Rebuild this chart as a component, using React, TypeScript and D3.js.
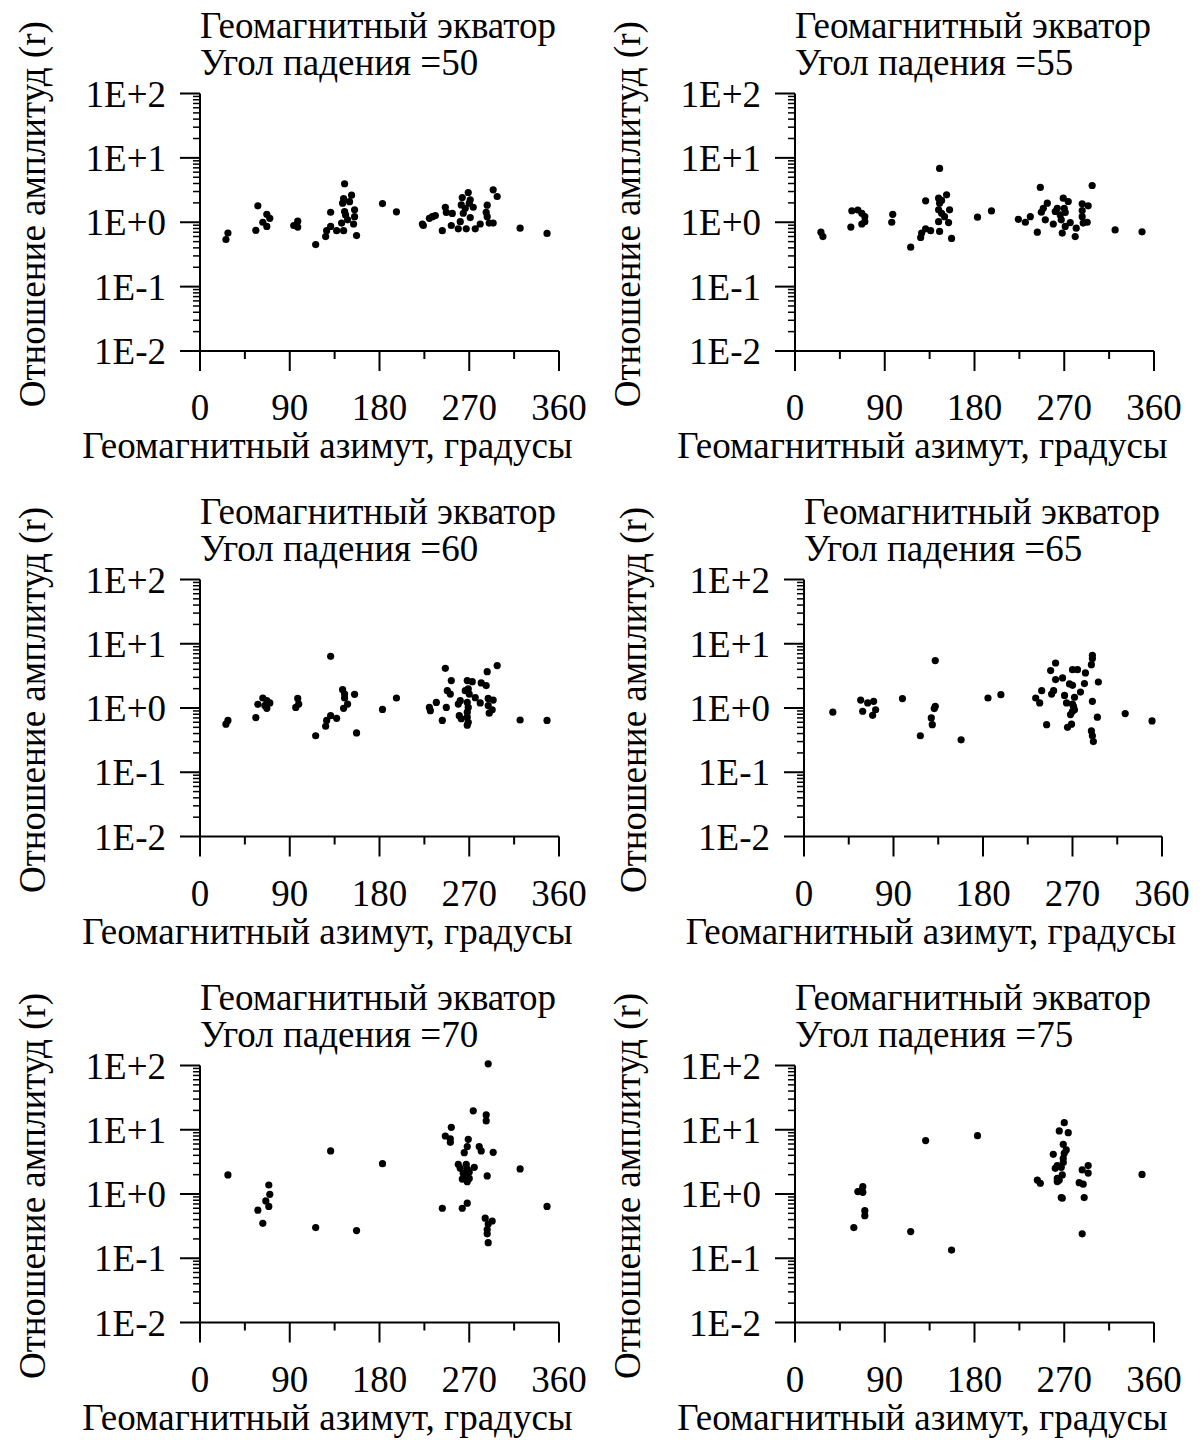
import React, { useEffect, useRef } from "react";
import * as d3 from "d3";

// azimuth (deg) and amplitude ratio r for each dip angle
const az50 = [26, 28, 56, 58, 67, 70, 63, 67, 94, 98, 98, 116, 126, 127, 131, 131, 137, 144, 142, 145, 144, 143, 150, 152, 145, 146, 148, 154, 155, 155, 157, 183, 197, 223, 224, 230, 233, 236, 243, 246, 247, 253, 252, 259, 261, 262, 263, 264, 267, 269, 270, 271, 266, 271, 274, 276, 281, 288, 287, 288, 290, 294, 294, 298, 321, 348];
const r50 = [0.54, 0.68, 0.75, 1.8, 1.33, 1.15, 1.0, 0.86, 0.89, 1.04, 0.84, 0.45, 0.6, 0.74, 0.86, 1.43, 0.74, 0.74, 0.97, 3.96, 2.34, 1.98, 2.09, 2.63, 1.47, 1.3, 1.09, 0.94, 1.56, 1.22, 0.62, 1.95, 1.45, 0.94, 0.89, 1.15, 1.22, 1.27, 0.74, 1.71, 1.42, 1.37, 0.89, 0.79, 1.02, 1.86, 2.42, 1.38, 0.79, 2.9, 1.98, 1.18, 1.65, 2.23, 1.71, 0.79, 0.94, 1.84, 1.43, 1.22, 0.97, 0.97, 3.19, 2.51, 0.81, 0.67];

const az55 = [26, 28, 56, 57, 63, 67, 70, 67, 70, 98, 97, 116, 126, 127, 131, 136, 131, 145, 144, 145, 147, 152, 144, 147, 144, 145, 150, 155, 154, 157, 183, 197, 224, 231, 236, 243, 246, 247, 249, 253, 251, 259, 261, 263, 266, 267, 269, 274, 270, 271, 268, 271, 276, 281, 282, 288, 288, 288, 294, 289, 293, 298, 321, 348];
const r55 = [0.7, 0.6, 0.84, 1.51, 1.55, 1.38, 1.22, 0.94, 1.02, 1.33, 1.0, 0.41, 0.58, 0.68, 0.79, 0.74, 2.15, 6.86, 2.37, 1.98, 2.18, 2.67, 1.56, 1.38, 1.02, 0.72, 1.22, 1.56, 0.99, 0.56, 1.2, 1.5, 1.11, 1.0, 1.22, 0.7, 3.47, 1.43, 1.65, 1.98, 1.09, 0.94, 1.47, 1.65, 1.3, 1.09, 2.37, 2.1, 1.65, 1.42, 0.68, 0.86, 0.99, 0.6, 0.81, 1.93, 1.52, 1.22, 1.8, 0.97, 1.0, 3.72, 0.76, 0.71];

const az60 = [26, 28, 56, 58, 63, 67, 70, 67, 65, 96, 98, 99, 116, 126, 127, 131, 137, 131, 143, 145, 145, 155, 148, 144, 157, 183, 197, 230, 231, 237, 243, 246, 247, 248, 251, 252, 259, 261, 260, 262, 266, 269, 270, 268, 273, 268, 269, 268, 268, 269, 268, 276, 282, 287, 288, 298, 281, 289, 294, 289, 293, 290, 321, 348];
const r60 = [0.56, 0.64, 0.71, 1.14, 1.43, 1.3, 1.2, 0.99, 1.09, 1.02, 1.41, 1.15, 0.37, 0.52, 0.64, 0.76, 0.69, 6.38, 1.93, 1.65, 1.43, 1.63, 1.15, 0.99, 0.41, 0.95, 1.43, 1.02, 0.91, 1.22, 0.64, 4.15, 1.02, 1.86, 1.65, 2.67, 1.15, 1.3, 0.76, 0.68, 1.86, 1.98, 1.65, 2.67, 2.57, 1.22, 1.02, 0.86, 0.72, 0.6, 0.54, 1.45, 2.46, 2.23, 3.68, 4.57, 1.2, 1.41, 1.33, 1.09, 0.94, 0.83, 0.65, 0.64];

const az65 = [29, 57, 59, 64, 70, 72, 69, 99, 117, 128, 129, 132, 131, 132, 158, 185, 198, 233, 237, 239, 244, 248, 249, 251, 253, 253, 260, 262, 264, 267, 270, 275, 270, 272, 270, 270, 268, 271, 272, 265, 269, 278, 282, 283, 289, 290, 290, 290, 289, 290, 291, 296, 295, 323, 350];
const r65 = [0.86, 1.33, 0.89, 1.2, 1.27, 0.94, 0.77, 1.4, 0.37, 0.7, 0.55, 5.47, 0.98, 1.06, 0.32, 1.43, 1.61, 1.43, 1.2, 1.86, 0.55, 3.82, 1.65, 1.86, 5.02, 2.77, 2.94, 1.57, 1.2, 2.37, 3.95, 3.95, 2.25, 1.47, 1.15, 0.89, 0.79, 1.06, 0.94, 0.5, 0.56, 1.77, 2.4, 3.52, 4.73, 5.87, 6.61, 1.27, 0.44, 0.37, 0.3, 2.54, 0.72, 0.82, 0.63];

const az70 = [28, 58, 63, 69, 70, 66, 69, 116, 131, 157, 183, 243, 246, 252, 251, 251, 263, 268, 274, 269, 268, 265, 259, 261, 263, 264, 267, 268, 270, 268, 268, 270, 275, 280, 282, 287, 287, 289, 288, 294, 286, 288, 288, 293, 289, 289, 321, 348];
const r70 = [1.98, 0.56, 0.35, 1.38, 0.99, 0.78, 0.64, 0.3, 4.68, 0.27, 2.97, 0.6, 8.0, 10.9, 6.38, 7.2, 0.6, 0.72, 19.7, 7.1, 5.47, 4.4, 2.9, 2.51, 1.71, 2.1, 2.9, 2.45, 2.2, 1.86, 1.55, 1.75, 2.6, 5.47, 4.68, 17.0, 13.7, 106, 1.91, 4.46, 0.42, 0.28, 0.24, 0.38, 0.34, 0.175, 2.46, 0.64];

const az75 = [59, 63, 68, 68, 67, 70, 70, 116, 131, 157, 183, 243, 246, 259, 261, 263, 263, 265, 265, 270, 274, 269, 272, 270, 269, 269, 267, 268, 263, 267, 268, 288, 294, 294, 285, 289, 290, 288, 348];
const r75 = [0.3, 1.09, 1.06, 1.3, 1.15, 0.55, 0.46, 0.26, 6.78, 0.134, 8.1, 1.65, 1.47, 4.15, 2.51, 2.77, 1.75, 1.65, 9.6, 12.9, 9.0, 5.94, 4.85, 4.3, 3.6, 3.1, 2.6, 1.98, 1.56, 0.88, 0.86, 2.37, 2.77, 2.12, 1.5, 1.42, 0.88, 0.24, 2.02];

const dipAngles = [50, 55, 60, 65, 70, 75];
const azSeries = [az50, az55, az60, az65, az70, az75];
const rSeries = [r50, r55, r60, r65, r70, r75];

const xTicks = [0, 90, 180, 270, 360];
const xMinorTicks = [45, 135, 225, 315];
const yTicks = [100, 10, 1, 0.1, 0.01];
const yTickLabels = ["1E+2", "1E+1", "1E+0", "1E-1", "1E-2"];

const titleLine1 = "Геомагнитный экватор";
const titleLine2 = "Угол падения =";
const xTitle = "Геомагнитный азимут, градусы";
const yTitle = "Отношение амплитуд (r)";

// panel frames: left / right of x axis, top / bottom of y axis, y-title column
const frames = [
  { l: 200, r: 559, t: 93.5, b: 351, yl: 32 },
  { l: 795, r: 1154, t: 93.5, b: 351, yl: 627 },
  { l: 200, r: 559, t: 579.5, b: 836.5, yl: 32 },
  { l: 804, r: 1162, t: 579.5, b: 836.5, yl: 633 },
  { l: 200, r: 559, t: 1065.5, b: 1322.5, yl: 32 },
  { l: 795, r: 1154, t: 1065.5, b: 1322.5, yl: 627 },
];

const FONT = "'Liberation Serif', 'Times New Roman', serif";
const FS = 37;

const drawPanel = (svg, f, az, r, dip) => {
  const x = d3.scaleLinear().domain([0, 360]).range([f.l, f.r]);
  const y = d3.scaleLog().domain([0.01, 100]).range([f.b, f.t]);
  const g = svg.append("g");

  // y minor ticks (2..9 in each decade)
  const minor = [];
  for (let e = -2; e < 2; e++) for (let k = 2; k <= 9; k++) minor.push(k * Math.pow(10, e));
  g.selectAll(".ymin").data(minor).enter().append("line")
    .attr("x1", f.l - 7).attr("x2", f.l)
    .attr("y1", d => y(d)).attr("y2", d => y(d))
    .attr("stroke", "#000").attr("stroke-width", 1.5);
  g.selectAll(".ymaj").data(yTicks).enter().append("line")
    .attr("x1", f.l - 20).attr("x2", f.l)
    .attr("y1", d => y(d)).attr("y2", d => y(d))
    .attr("stroke", "#000").attr("stroke-width", 2);
  g.selectAll(".ylab").data(yTicks).enter().append("text")
    .attr("x", f.l - 34).attr("y", d => y(d) + 13)
    .attr("text-anchor", "end")
    .text((d, i) => yTickLabels[i]);

  // x ticks
  g.selectAll(".xmaj").data(xTicks).enter().append("line")
    .attr("x1", d => x(d)).attr("x2", d => x(d))
    .attr("y1", f.b).attr("y2", f.b + 20)
    .attr("stroke", "#000").attr("stroke-width", 2);
  g.selectAll(".xmin").data(xMinorTicks).enter().append("line")
    .attr("x1", d => x(d)).attr("x2", d => x(d))
    .attr("y1", f.b).attr("y2", f.b + 8)
    .attr("stroke", "#000").attr("stroke-width", 2);
  g.selectAll(".xlab").data(xTicks).enter().append("text")
    .attr("x", d => x(d)).attr("y", f.b + 69)
    .attr("text-anchor", "middle")
    .text(d => d);

  // axis lines
  g.append("line").attr("x1", f.l).attr("x2", f.l).attr("y1", f.t).attr("y2", f.b)
    .attr("stroke", "#000").attr("stroke-width", 2);
  g.append("line").attr("x1", f.l).attr("x2", f.r).attr("y1", f.b).attr("y2", f.b)
    .attr("stroke", "#000").attr("stroke-width", 2);

  // points
  g.selectAll("circle").data(az).enter().append("circle")
    .attr("cx", d => x(d)).attr("cy", (d, i) => y(r[i]))
    .attr("r", 3.6).attr("fill", "#000");

  // titles
  g.append("text").attr("x", f.l).attr("y", f.t - 56).text(titleLine1);
  g.append("text").attr("x", f.l).attr("y", f.t - 19).text(titleLine2 + dip);
  g.append("text").attr("x", (f.l + f.r) / 2 - 52).attr("y", f.b + 107)
    .attr("text-anchor", "middle").text(xTitle);
  const cy = (f.t + f.b) / 2 - 8;
  g.append("text")
    .attr("transform", `translate(${f.yl + 13},${cy}) rotate(-90)`)
    .attr("text-anchor", "middle").text(yTitle);
};

export default function App() {
  const ref = useRef(null);

  useEffect(() => {
    const svg = d3.select(ref.current);
    svg.selectAll("*").remove();
    frames.forEach((f, i) => drawPanel(svg, f, azSeries[i], rSeries[i], dipAngles[i]));
  }, []);

  return (
    <svg
      ref={ref}
      width={1204}
      height={1440}
      style={{ position: "absolute", left: 0, top: 0, background: "#fff" }}
      fontFamily={FONT}
      fontSize={FS}
      fill="#000"
    />
  );
}
